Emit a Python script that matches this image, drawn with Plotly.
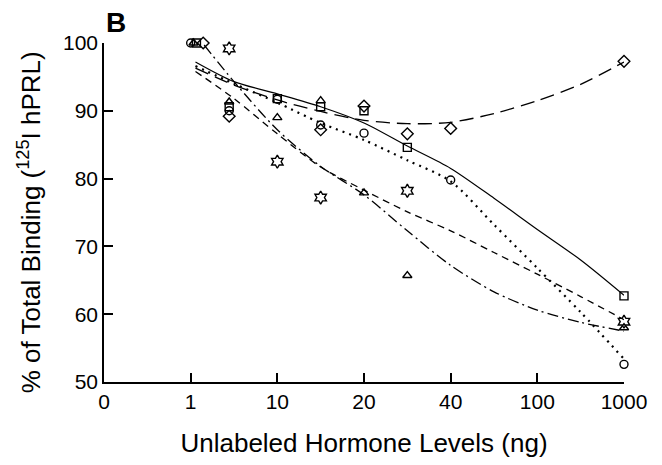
import numpy as np
import plotly.graph_objects as go

# Axis: evenly spaced tick positions carrying non-linear dose labels
tick_doses = [0, 1, 10, 20, 40, 100, 1000]
tick_labels = ["0", "1", "10", "20", "40", "100", "1000"]
tick_pos = list(range(len(tick_doses)))


def to_axis(doses):
    """Place doses on the piecewise axis between labelled ticks."""
    return np.interp(doses, tick_doses, tick_pos)


# Measured binding (% of total 125I-hPRL binding)
circle_dose = [1.0, 5, 10, 15, 20, 40, 1000]
circle_pct = [100.0, 90.0, 91.7, 87.9, 86.7, 79.8, 52.6]

square_dose = [1.6, 5, 10, 15, 20, 30, 1000]
square_pct = [100.0, 90.6, 91.8, 90.6, 90.0, 84.6, 62.7]

diamond_dose = [2.3, 5, 15, 20, 30, 40, 1000]
diamond_pct = [100.0, 89.2, 87.2, 90.7, 86.6, 87.4, 97.3]

triangle_dose = [1.3, 5, 10, 15, 20, 30, 1000]
triangle_pct = [100.0, 91.3, 89.0, 91.5, 77.9, 65.7, 58.0]

star_dose = [5, 10, 15, 30, 1000]
star_pct = [99.2, 82.5, 77.2, 78.2, 58.9]

# Fitted curves
fit_dose = [1.5, 5.5, 10, 15, 20, 30, 40, 70, 100, 550, 1000]
fit_square = [97.2, 94.3, 92.5, 90.6, 88.2, 84.8, 81.5, 77.1, 72.5, 68.0, 62.8]
fit_circle = [96.6, 94.0, 91.2, 88.2, 85.7, 82.7, 79.6, 73.2, 66.8, 60.3, 53.4]
fit_diamond = [96.3, 93.8, 91.6, 89.9, 88.6, 88.1, 88.3, 89.6, 91.5, 93.9, 97.2]
fit_star = [95.8, 91.8, 86.6, 81.7, 78.3, 75.1, 72.3, 69.1, 65.9, 62.6, 59.2]
fit_triangle_dose = [2.4, 5.5, 10, 15, 20, 30, 40, 70, 100, 550, 1000]
fit_triangle = [99.7, 94.3, 87.2, 81.8, 77.6, 72.3, 67.2, 63.3, 60.6, 58.8, 57.5]

FONT = "Liberation Sans, Arial, Helvetica, sans-serif"
INK = "black"

fig = go.Figure()

curves = [
    (fit_dose, fit_square, "solid", 1.2),
    (fit_dose, fit_circle, "2px,5px", 2.2),
    (fit_dose, fit_diamond, "14px,7px", 1.3),
    (fit_dose, fit_star, "7px,5px", 1.3),
    (fit_triangle_dose, fit_triangle, "11px,4px,2px,4px", 1.3),
]
for dose, pct, dash, width in curves:
    fig.add_trace(go.Scatter(
        x=to_axis(dose), y=pct, mode="lines",
        line=dict(color=INK, width=width, dash=dash, shape="spline", smoothing=0.8),
        hoverinfo="skip", showlegend=False, cliponaxis=False,
    ))

markers = [
    (circle_dose, circle_pct, "circle-open", 8),
    (square_dose, square_pct, "square-open", 8),
    (diamond_dose, diamond_pct, "diamond-open", 9),
    (triangle_dose, triangle_pct, "triangle-up-open", 8),
    (star_dose, star_pct, "hexagram-open", 10),
]
for dose, pct, symbol, size in markers:
    fig.add_trace(go.Scatter(
        x=to_axis(dose), y=pct, mode="markers",
        marker=dict(symbol=symbol, size=size, color=INK,
                    line=dict(color=INK, width=1.4)),
        showlegend=False, cliponaxis=False,
    ))

# Panel letter
fig.add_annotation(
    text="<b>B</b>", xref="paper", yref="paper", x=0, y=1,
    xanchor="left", yanchor="bottom", yshift=3, showarrow=False,
    font=dict(family=FONT, size=28, color=INK),
)

# Vertical axis title, set a little further out than the axis title standoff allows
fig.add_annotation(
    text="% of Total Binding (<sup>125</sup>I hPRL)",
    xref="paper", yref="paper", x=-0.143, y=0.47,
    xanchor="center", yanchor="middle", textangle=-90, showarrow=False,
    font=dict(family=FONT, size=26, color=INK),
)

axis_common = dict(
    showline=True, linecolor=INK, linewidth=1.5, mirror=False,
    ticks="inside", ticklen=9, tickwidth=1.5, tickcolor=INK,
    showgrid=False, zeroline=False,
    tickfont=dict(family=FONT, size=21, color=INK),
)

fig.update_layout(
    width=662, height=465,
    margin=dict(l=104, r=38, t=43, b=78),
    paper_bgcolor="white", plot_bgcolor="white",
    xaxis=dict(
        range=[0, 6], tickvals=tick_pos, ticktext=tick_labels,
        title=dict(text="Unlabeled Hormone Levels (ng)", standoff=22,
                   font=dict(family=FONT, size=26, color=INK)),
        **axis_common,
    ),
    yaxis=dict(
        range=[50, 100], tickvals=[50, 60, 70, 80, 90, 100],
        **axis_common,
    ),
)

fig.write_html("out.html")
